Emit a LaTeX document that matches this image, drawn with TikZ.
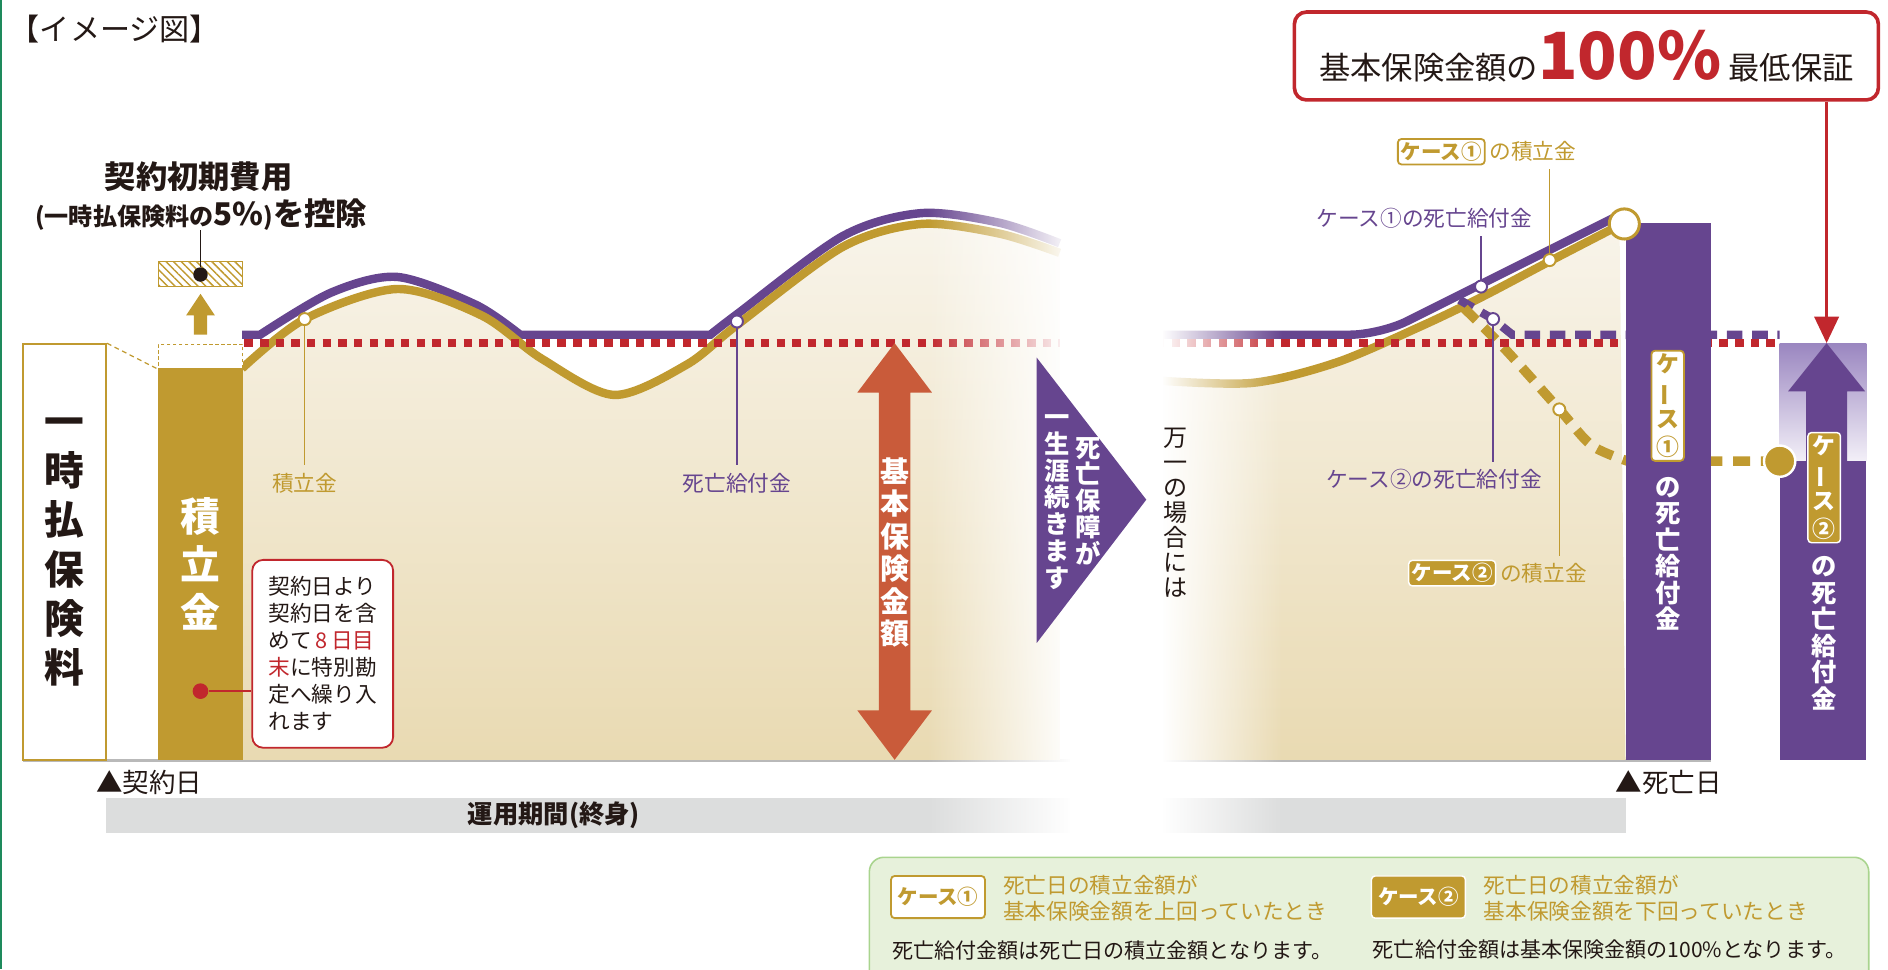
\documentclass[tikz,border=0pt]{standalone}
\usepackage{fontspec}
\setmainfont{Noto Sans CJK JP}
\usetikzlibrary{fadings,patterns.meta,positioning,arrows.meta}

\definecolor{gold}{HTML}{C09A30}
\definecolor{purp}{HTML}{66458F}
\definecolor{lilac}{HTML}{9A86C0}
\definecolor{mist}{HTML}{F3F0F8}
\definecolor{crimson}{HTML}{C1272D}
\definecolor{brick}{HTML}{C95B3A}
\definecolor{ink}{HTML}{231815}
\definecolor{cream}{HTML}{F8F4EA}
\definecolor{sand}{HTML}{E9DAB2}
\definecolor{mint}{HTML}{E7F1DB}
\definecolor{mintline}{HTML}{A9D48E}
\definecolor{lgray}{HTML}{DCDDDD}
\definecolor{edge}{HTML}{1E8A5C}

\newcommand{\vbar}{\rotatebox[origin=c]{90}{ー}}
\newcommand{\fs}[2]{\fontsize{#1}{#2}\selectfont}

\begin{document}
\begin{tikzpicture}[x=1pt, y=-1pt,
    txt/.style={inner sep=0pt, text=ink},
    lab/.style={inner sep=0pt, font=\fs{18}{22}},
    vcol/.style={inner sep=0pt, align=center, text=white},
    knob/.style={circle, draw=#1, fill=white, line width=1.6pt, inner sep=0pt, minimum size=10pt},
    leader/.style={line width=1.3pt, shorten >=6pt},
    caseA/.style={draw=gold, fill=white, text=gold, line width=1.5pt, rounded corners=3pt, inner sep=2.5pt, font=\fs{17}{20}\bfseries},
    caseB/.style={draw=white, fill=gold, text=white, line width=1.2pt, rounded corners=3pt, inner sep=2.5pt, font=\fs{17}{20}\bfseries},
    dotline/.style={crimson, line width=7pt, dash pattern=on 7pt off 6pt}]

    \useasboundingbox (0,0) rectangle (1568,805);
    \clip (0,0) rectangle (1568,805);
    \draw[edge, line width=1.5pt] (0.75,0) -- (0.75,805);
    \node[txt, anchor=west, font=\fs{25}{28}] (title) at (8,24) {【イメージ図】};

    % time axis
    \draw[gray!55, line width=2.5pt] (19,632) -- (1421,632);
    \fill[lgray] (88,663) rectangle (1350,692);
    \node[txt, font=\fs{21}{24}\bfseries] (term) at (460,677) {運用期間(終身)};

    % accumulation (left part)
    \shade[top color=cream, bottom color=sand] (201,631) -- (201,306) -- plot[smooth] coordinates {(201,306) (253,265) (330,240) (400,262) (450,298) (510,328) (570,303) (612,270) (700,205) (765,186) (830,194) (880,210)} -- (880,631) -- cycle;
    \draw[purp, line width=7pt] (201,278) -- (216,278) -- plot[smooth] coordinates {(216,278) (275,243) (330,230) (395,253) (432,278)} -- (590,278) -- plot[smooth] coordinates {(590,278) (612,261) (700,196) (765,177) (830,185) (880,202)};
    \draw[gold, line width=7pt] plot[smooth] coordinates {(201,306) (253,265) (330,240) (400,262) (450,298) (510,328) (570,303) (612,270) (700,205) (765,186) (830,194) (880,210)};
    \draw[dotline] (203,285) -- (880,285);
    \node[knob=gold] (fundk) at (253,265) {};
    \node[knob=purp] (deathk) at (612,267) {};
    \node[lab, text=gold] (fundt) at (253,401) {積立金};
    \node[lab, text=purp] (deatht) at (612,401) {死亡給付金};
    \draw[gold, leader] (fundk) -- (fundt.north);
    \draw[purp, leader] (deathk) -- (deatht.north);

    % accumulation (right part)
    \shade[top color=cream, bottom color=sand] (960,631) -- (960,316) -- plot[smooth] coordinates {(960,316) (1040,318) (1110,301) (1180,271) (1230,247) (1287,217) (1345,187)} -- (1350,631) -- cycle;
    \draw[purp, line width=7pt, rounded corners=25pt] (960,278) -- (1146,278) -- (1342,180);
    \draw[gold, line width=7pt] plot[smooth] coordinates {(960,316) (1040,318) (1110,301) (1180,271) (1230,247) (1287,217) (1345,187)};
    \draw[purp, line width=7pt, dash pattern=on 13pt off 8pt] (1212,249) -- (1240,265) -- (1256,278) -- (1478,278);
    \draw[gold, line width=8pt, dash pattern=on 14pt off 9pt] plot[smooth] coordinates {(1216,256) (1250,290) (1295,340) (1322,370) (1352,383)} -- (1470,383);
    \draw[dotline] (960,285) -- (1478,285);

    % fade out / fade in
    \fill[white, path fading=west] (770,140) rectangle (890,700);
    \fill[white] (889,140) rectangle (966,700);
    \fill[white, path fading=east] (965,140) rectangle (1065,700);

    % right part pins and labels
    \node[knob=purp] (d1k) at (1230,238) {};
    \node[knob=gold] (k1k) at (1287,216) {};
    \node[knob=purp] (d2k) at (1240,265) {};
    \node[knob=gold] (k2k) at (1295,340) {};
    \node[lab, text=purp] (d1t) at (1183,181) {ケース①の死亡給付金};
    \node[caseA] (k1b) at (1197,126) {ケース①};
    \node[lab, text=gold, right=3pt of k1b] (k1t) {の積立金};
    \node[lab, text=purp] (d2t) at (1191,398) {ケース②の死亡給付金};
    \node[caseB] (k2b) at (1206,476) {ケース②};
    \node[lab, text=gold, right=3pt of k2b] (k2t) {の積立金};
    \draw[purp, leader] (d1k) -- (d1k |- d1t.south);
    \draw[gold, leader] (k1k) -- (k1k |- k1t.south);
    \draw[purp, leader] (d2k) -- (d2k |- d2t.north);
    \draw[gold, leader] (k2k) -- (k2k |- k2t.north);

    % single premium and fund
    \node[draw=gold, fill=white, line width=1.8pt, minimum width=69pt, minimum height=345pt, align=center, text=ink, font=\fs{33}{41}\bfseries] (prem) at (53.5,458.5) {一\\時\\払\\保\\険\\料};
    \node[fill=gold, minimum width=70pt, minimum height=325pt, inner sep=0pt, align=center, text=white, font=\fs{33}{40}\bfseries] (fund) at (166.5,468.5) {積\\立\\金};
    \node[draw=gold, fill=white, dash pattern=on 3pt off 2pt, line width=1pt, minimum width=70pt, minimum height=20pt, inner sep=0pt] (cut) at (166.5,296) {};
    \draw[gold, line width=1pt, dash pattern=on 4pt off 3pt] (prem.north east) -- (cut.south west);
    \fill[gold] (166.5,244) -- (178.5,262) -- (172,262) -- (172,278) -- (161,278) -- (161,262) -- (154.5,262) -- cycle;
    \node[draw=gold, line width=1.2pt, pattern={Lines[angle=-45,distance=4.5pt,line width=1.2pt]}, pattern color=gold, minimum width=70pt, minimum height=21pt, inner sep=0pt] (fee) at (166.5,227.5) {};
    \node[circle, fill=ink, inner sep=0pt, minimum size=12pt] (feedot) at (166.5,228) {};
    \node[txt, font=\fs{26}{30}\bfseries] (feeA) at (165,147) {契約初期費用};
    \node[txt, font=\fs{20}{24}\bfseries] (feeB) at (167,178) {(一時払保険料の{\fs{26}{28}5\%}){\fs{26}{28}を控除}};
    \draw[ink, line width=1.4pt] (feedot |- feeB.south) -- (feedot);

    % special account note
    \node[draw=crimson, fill=white, line width=1.5pt, rounded corners=9pt, minimum width=117pt, minimum height=156pt, align=left, text=ink, font=\fs{18}{22.4}] (note) at (268,543) {契約日より\\契約日を含\\めて{\color{crimson}\,8\,日目}\\{\color{crimson}末}に特別勘\\定へ繰り入\\れます};
    \node[circle, fill=crimson, inner sep=0pt, minimum size=13pt] (rdot) at (166.5,574) {};
    \draw[crimson, line width=1.5pt] (rdot) -- (rdot -| note.west);

    % basic amount arrow
    \fill[brick] (743,285) -- (774,326) -- (756,326) -- (756,590) -- (774,590) -- (743,631) -- (712,590) -- (730,590) -- (730,326) -- (712,326) -- cycle;
    \node[vcol, font=\fs{24}{27}\bfseries] (basic) at (743,459) {基\\本\\保\\険\\金\\額};

    % lifelong coverage
    \fill[purp] (861,297) -- (952,415) -- (861,534) -- cycle;
    \node[vcol, font=\fs{21}{22}\bfseries] (lifeA) at (904,416) {死\\亡\\保\\障\\が};
    \node[vcol, font=\fs{21}{22.3}\bfseries] (lifeB) at (878,417) {一\\生\\涯\\続\\き\\ま\\す};
    \node[txt, align=center, font=\fs{20}{20.7}] (ifdie) at (976,426) {万\\一\\の\\場\\合\\に\\は};

    % case 1 death benefit
    \fill[purp] (1350,185) rectangle (1421,631);
    \node[circle, draw=gold, fill=white, line width=2.5pt, minimum size=25pt, inner sep=0pt] (peak) at (1349,186) {};
    \node[caseA, align=center, minimum width=27pt, font=\fs{19}{23}\bfseries] (bar1b) at (1385,337) {ケ\\\vbar\\ス\\①};
    \node[vcol, font=\fs{21}{22}\bfseries] (bar1t) at (1385,460) {の\\死\\亡\\給\\付\\金};

    % case 2 death benefit
    \shade[top color=lilac, bottom color=mist] (1478,285) rectangle (1550,383);
    \fill[purp] (1478,383) rectangle (1550,631);
    \fill[purp] (1517,285) -- (1549,325) -- (1534,325) -- (1534,384) -- (1500,384) -- (1500,325) -- (1485,325) -- cycle;
    \node[circle, fill=gold, draw=white, line width=2pt, minimum size=26pt, inner sep=0pt] (floor) at (1478,383) {};
    \node[caseB, align=center, minimum width=27pt, font=\fs{19}{23}\bfseries] (bar2b) at (1515,405) {ケ\\\vbar\\ス\\②};
    \node[vcol, font=\fs{21}{22}\bfseries] (bar2t) at (1515,526) {の\\死\\亡\\給\\付\\金};

    % guarantee
    \coordinate (goal) at (1517,285);
    \node[draw=crimson, fill=white, line width=3pt, rounded corners=10pt, minimum width=485pt, minimum height=73pt, text=ink] (topbox) at (1317.5,46.5) {{\fs{26}{30}基本保険金額の}{\fs{54}{56}\bfseries\color{crimson}100\%}\hspace{6pt}{\fs{26}{30}最低保証}};
    \draw[crimson, line width=3pt, -{Triangle[length=22pt,width=20pt]}] (topbox.south -| goal) -- (goal);

    % dates
    \node[txt, font=\fs{22}{24}] (start) at (124,650) {▲契約日};
    \node[txt, font=\fs{22}{24}] (death) at (1386,650) {▲死亡日};

    % legend
    \draw[mintline, fill=mint, line width=1.3pt, rounded corners=12pt] (722,712) rectangle (1552,830);
    \node[caseA, minimum width=78pt, minimum height=35pt] (lg1) at (779,745) {ケース①};
    \node[lab, text=gold, anchor=west, align=left] (lg1t) at (833,746) {死亡日の積立金額が\\基本保険金額を上回っていたとき};
    \node[caseB, minimum width=78pt, minimum height=35pt] (lg2) at (1178,745) {ケース②};
    \node[lab, text=gold, anchor=west, align=left] (lg2t) at (1232,746) {死亡日の積立金額が\\基本保険金額を下回っていたとき};
    \node[txt, anchor=west, font=\fs{17.5}{20}] (lg1b) at (741,789) {死亡給付金額は死亡日の積立金額となります。};
    \node[txt, anchor=west, font=\fs{17.5}{20}] (lg2b) at (1140,789) {死亡給付金額は基本保険金額の100\%となります。};
\end{tikzpicture}
\end{document}
